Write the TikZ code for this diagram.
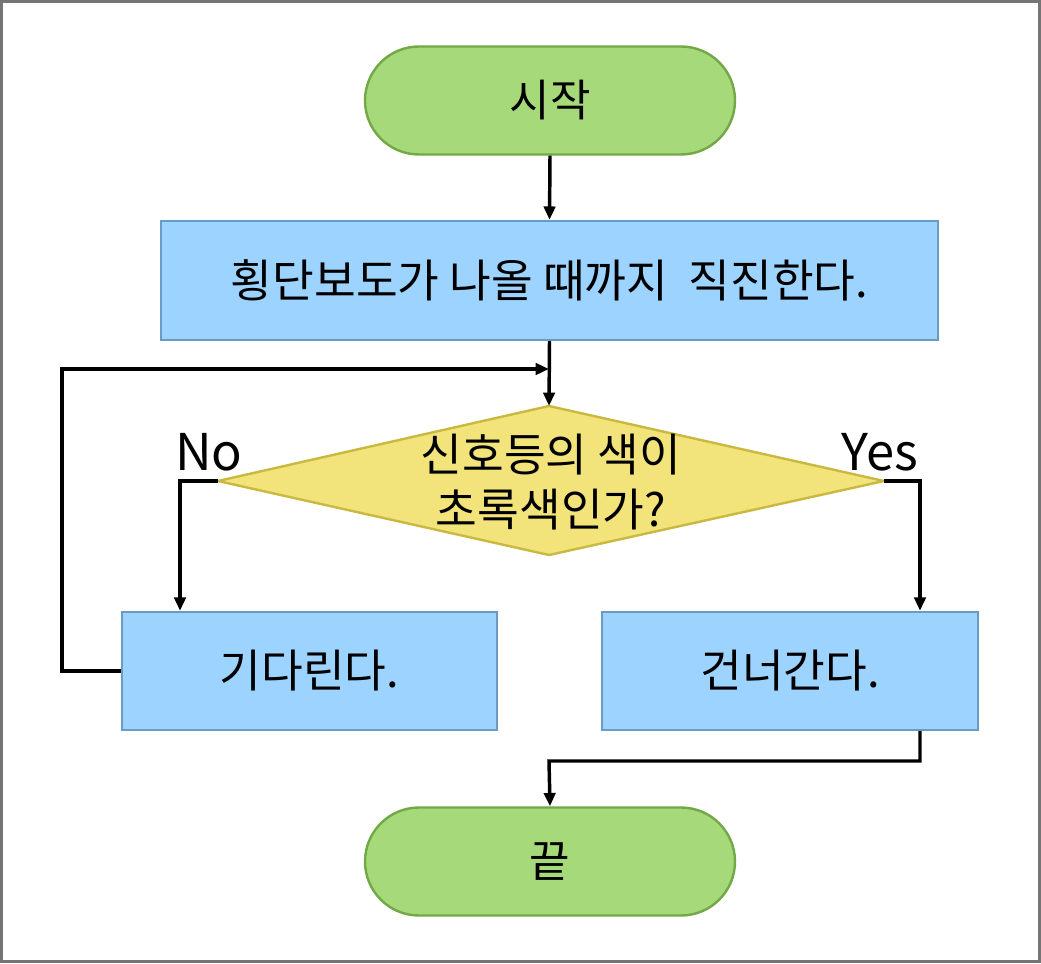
\documentclass[tikz,border=0pt]{standalone}
\usepackage{fontspec}
\setmainfont{Noto Sans CJK KR}
\usetikzlibrary{arrows.meta,shapes.geometric,shapes.misc}
\definecolor{termfill}{HTML}{A6D97A}
\definecolor{termdraw}{HTML}{72A845}
\definecolor{boxfill}{HTML}{9DD3FF}
\definecolor{boxdraw}{HTML}{6A9BC4}
\definecolor{decfill}{HTML}{F2E47A}
\definecolor{decdraw}{HTML}{C9B940}
\definecolor{frame}{HTML}{757575}
\begin{document}
\begin{tikzpicture}[x=0.75pt,y=-0.75pt,
  term/.style={rounded rectangle, fill=termfill, draw=termdraw, line width=1.8pt,
     minimum width=370*0.75pt, minimum height=108*0.75pt, inner sep=0pt, font=\fontsize{33pt}{40pt}\selectfont},
  procbox/.style={rectangle, fill=boxfill, draw=boxdraw, line width=1.8pt, inner sep=0pt,
     font=\fontsize{34pt}{40pt}\selectfont},
  conn/.style={line width=2.6pt, draw=black},
  arr/.style={conn, -{Triangle[length=10pt,width=8.5pt]}},
  lbl/.style={font=\fontsize{38pt}{44pt}\selectfont, inner sep=0pt}
]
\useasboundingbox (0,0) rectangle (1041,963);
\draw[frame, line width=2.4pt] (1.5,1.5) rectangle (1039.5,961.5);
\node[term] (start) at (550,100.5) {시작};
\node[procbox, minimum width=777*0.75pt, minimum height=119*0.75pt] (walk) at (549.5,280.5) {횡단보도가 나올 때까지\ \ 직진한다.};
\coordinate (dtop) at (549,406);
\coordinate (dleft) at (218,481);
\coordinate (dright) at (884,481);
\coordinate (dbot) at (549,555);
\draw[fill=decfill, draw=decdraw, line width=1.8pt] (dtop) -- (dright) -- (dbot) -- (dleft) -- cycle;
\node[font=\fontsize{34pt}{41pt}\selectfont, align=center, inner sep=0pt] (q) at (551,482) {신호등의 색이\\초록색인가?};
\node[procbox, minimum width=375*0.75pt, minimum height=118*0.75pt] (wait) at (309.5,671) {기다린다.};
\node[procbox, minimum width=376*0.75pt, minimum height=118*0.75pt] (cross) at (790,671) {건너간다.};
\node[term] (end) at (550,861.5) {끝};
\node[lbl] (no) at (209,452) {No};
\node[lbl] (yes) at (880,452) {Yes};
\coordinate (loopin) at (549,369);
\coordinate (loopcorner) at (62,369);
\draw[arr] (start.south) -- (walk.north);
\draw[arr] (walk.south) -- (dtop);
\draw[arr] (dleft) -- (180,481) -- (wait.north -| 180,0);
\draw[arr] (dright) -- (920,481) -- (cross.north -| 920,0);
\draw[arr] (wait.west) -| (loopcorner) -- (loopin);
\draw[arr] (cross.south -| 920,0) -- (920,761) -- (549,761) -- (end.north);
\end{tikzpicture}
\end{document}
